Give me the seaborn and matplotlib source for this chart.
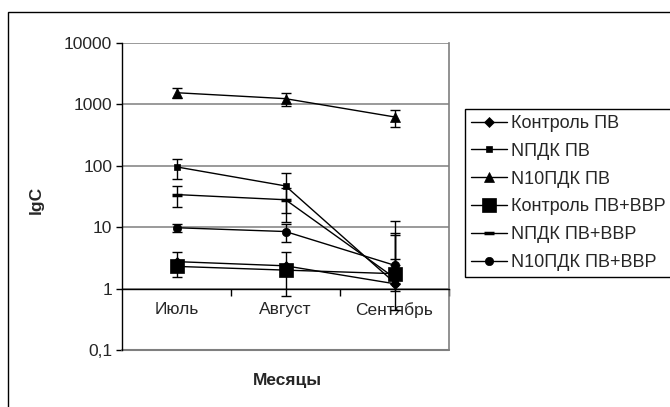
import numpy as np
import pandas as pd
import matplotlib
matplotlib.use("Agg")
import matplotlib.pyplot as plt
import seaborn as sns
from matplotlib.ticker import FixedLocator, FixedFormatter, NullLocator
from matplotlib.patches import Rectangle

months = ["Июль", "Август", "Сентябрь"]
series_names = ["Контроль ПВ", "NПДК ПВ", "N10ПДК ПВ",
                "Контроль ПВ+ВВР", "NПДК ПВ+ВВР", "N10ПДК ПВ+ВВР"]

kontrol_pv = [2.75, 2.35, 1.2]
kontrol_pv_err = [1.2, 1.6, 0.3]
npdk_pv = [96, 47, 1.25]
npdk_pv_err = [35, 30, 11.3]
n10pdk_pv = [1550, 1240, 625]
n10pdk_pv_err = [290, 300, 200]
kontrol_vvr = [2.3, 2.0, 1.75]
kontrol_vvr_err = [0.2, 0.2, 1.3]
npdk_vvr = [34, 28, 1.5]
npdk_vvr_err = [13, 16, 5.9]
n10pdk_vvr = [9.8, 8.5, 2.4]
n10pdk_vvr_err = [1.5, 2.8, 5.7]

yticks = [0.1, 1, 10, 100, 1000, 10000]
ytick_labels = ["0,1", "1", "10", "100", "1000", "10000"]

values = [kontrol_pv, npdk_pv, n10pdk_pv, kontrol_vvr, npdk_vvr, n10pdk_vvr]
errors = [kontrol_pv_err, npdk_pv_err, n10pdk_pv_err,
          kontrol_vvr_err, npdk_vvr_err, n10pdk_vvr_err]

sns.set_style("white")
plt.rcParams["font.family"] = ["Liberation Sans", "DejaVu Sans"]
FS = 12.5
LFS = 13

W, H = 670, 407
fig = plt.figure(figsize=(W / 100, H / 100), dpi=100)
ax = fig.add_axes([122 / W, 1 - 350 / H, 327 / W, 307 / H])

styles = [
    dict(marker="D", ms=5, mew=0.5),
    dict(marker="s", ms=5, mew=0.5),
    dict(marker="^", ms=7, mew=0.5),
    dict(marker="s", ms=10, mew=0.5),
    dict(marker="_", ms=7, mew=2.5),
    dict(marker="o", ms=6, mew=0.5),
]

x = np.arange(len(months))
for i, (name, vals, errs, st) in enumerate(zip(series_names, values, errors, styles)):
    lo = [e if v - e > 0 else 0 for v, e in zip(vals, errs)]
    ax.errorbar(x, vals, yerr=[lo, errs], fmt="none", ecolor="black",
                elinewidth=1, capsize=3.5, capthick=1, zorder=2 + i * 0.1)
    df = pd.DataFrame({"x": x, "y": vals})
    sns.lineplot(data=df, x="x", y="y", ax=ax, color="black", lw=1, label=name,
                 mec="black", mfc="black", zorder=3 + i * 0.1, **st)

ax.set_yscale("log")
ax.set_ylim(0.1, 10000)
ax.set_xlim(-0.5, 2.5)
ax.yaxis.set_major_locator(FixedLocator(yticks))
ax.yaxis.set_major_formatter(FixedFormatter(ytick_labels))
ax.yaxis.set_minor_locator(NullLocator())
ax.tick_params(axis="y", which="major", length=4, width=1, color="black",
               direction="out", labelsize=FS, pad=3, left=True)

ax.set_xticks(x)
ax.set_xticklabels(months)
ax.set_xticks([0.5, 1.5, 2.5], minor=True)
ax.tick_params(axis="x", which="major", length=0, pad=10, labelsize=FS)
ax.tick_params(axis="x", which="minor", length=5, width=1, color="black",
               direction="out", bottom=True)

ax.yaxis.grid(True, color="#7f7f7f", lw=1.1)
ax.xaxis.grid(False)
ax.set_axisbelow(True)

ax.spines["bottom"].set_position(("data", 1))
ax.spines["bottom"].set_color("black")
ax.spines["bottom"].set_linewidth(1)
ax.spines["left"].set_color("black")
ax.spines["left"].set_linewidth(1)
ax.spines["top"].set_visible(False)
ax.spines["right"].set_color("#7f7f7f")
ax.spines["right"].set_linewidth(1.2)
ax.axhline(0.1, color="#7f7f7f", lw=1.5, zorder=1, clip_on=False)

ax.set_xlabel("")
ax.set_ylabel("")
leg = ax.get_legend()
handles, labels = ax.get_legend_handles_labels()
if leg is not None:
    leg.remove()

fig.text(36 / W, 1 - 200 / H, "lgC", rotation=90, fontsize=FS,
         fontweight="bold", ha="center", va="center")
fig.text(287 / W, 1 - 381 / H, "Месяцы", fontsize=FS,
         fontweight="bold", ha="center", va="center")

fig.legend(handles, labels, loc="upper left",
           bbox_to_anchor=(465 / W, 1 - 109 / H), frameon=True,
           fancybox=False, edgecolor="black", framealpha=1, borderaxespad=0,
           handlelength=2.0, handletextpad=0.22, labelspacing=0.6,
           fontsize=LFS, borderpad=0.33)
fig.legends[0].get_frame().set_linewidth(1)

fig.patches.append(Rectangle((8 / W, -0.2), 1.5, 1 - 12 / H + 0.2,
                             transform=fig.transFigure, fill=False,
                             edgecolor="black", lw=1))

fig.savefig("out.png", dpi=100)
